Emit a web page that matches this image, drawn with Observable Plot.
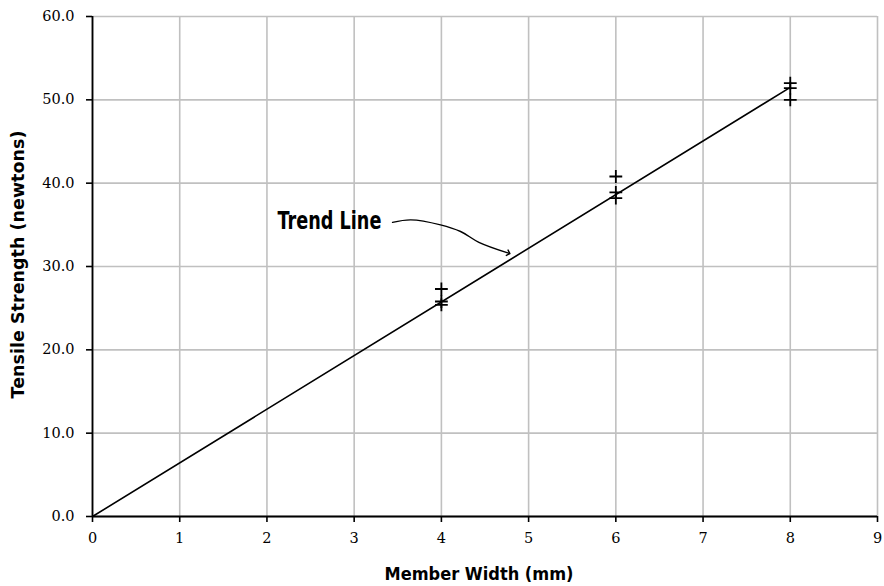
<!DOCTYPE html>
<html><head><meta charset="utf-8">
<script src="https://cdn.jsdelivr.net/npm/d3@7"></script>
<script src="https://cdn.jsdelivr.net/npm/@observablehq/plot@0.6"></script>
<style>
body{margin:0;background:#fff;}
#chart svg{display:block;}
</style>
</head><body><div id="chart"></div>
<script>
// Data
const widthMM = [4, 4, 4, 6, 6, 6, 8, 8, 8];
const strength = [27.3, 25.8, 25.4, 40.8, 38.9, 38.2, 52.0, 51.4, 50.0];
const trendX = [0, 8];
const trendY = [0, 51.5];
const xTicks = [0, 1, 2, 3, 4, 5, 6, 7, 8, 9];
const yTicks = [0, 10, 20, 30, 40, 50, 60];
const annotationText = "Trend Line";
const annotationAt = {x: 2.12, y: 35.4};
const arrowX = [3.44, 3.65, 3.99, 4.22, 4.43, 4.77];
const arrowY = [35.3, 35.6, 35.0, 34.2, 32.9, 31.6];
const xTitle = "Member Width (mm)";
const yTitle = "Tensile Strength (newtons)";

const points = widthMM.map((x, i) => ({x, y: strength[i]}));
const trend = trendX.map((x, i) => ({x, y: trendY[i]}));
const arrow = arrowX.map((x, i) => ({x, y: arrowY[i]}));

const boldFont = "'DejaVu Sans', sans-serif";
const numFont = "'DejaVu Serif', 'Liberation Serif', serif";

const chart = Plot.plot({
  width: 884,
  height: 586,
  marginLeft: 92,
  marginRight: 7,
  marginTop: 16,
  marginBottom: 70,
  style: {fontFamily: numFont, fontSize: "14px", color: "#000", background: "#fff"},
  x: {domain: [0, 9], ticks: xTicks, label: null},
  y: {domain: [0, 60], ticks: yTicks, label: null},
  marks: [
    Plot.gridX(xTicks, {stroke: "#c0c0c0", strokeOpacity: 1, strokeWidth: 1.6}),
    Plot.gridY(yTicks, {stroke: "#c0c0c0", strokeOpacity: 1, strokeWidth: 1.6}),
    Plot.axisX(xTicks, {tickSize: 6, tickPadding: 10, tickFormat: d => String(d), stroke: "#000", strokeWidth: 1.6, fontFamily: numFont, fontSize: 14.5}),
    Plot.axisY(yTicks, {tickSize: 6, tickPadding: 12, tickFormat: d => d.toFixed(1), stroke: "#000", strokeWidth: 1.6, fontFamily: numFont, fontSize: 14.5}),
    Plot.ruleX([0], {stroke: "#000", strokeWidth: 1.8}),
    Plot.ruleY([0], {stroke: "#000", strokeWidth: 1.8}),
    Plot.line(trend, {x: "x", y: "y", stroke: "#000", strokeWidth: 1.6}),
    Plot.dot(points, {x: "x", y: "y", symbol: "plus", r: 4.2, stroke: "#000", strokeWidth: 1.8}),
    Plot.line(arrow, {x: "x", y: "y", curve: "catmull-rom", stroke: "#000", strokeWidth: 1.4, markerEnd: "arrow"}),
    Plot.text([annotationAt], {x: "x", y: "y", text: () => annotationText, textAnchor: "start", fontFamily: boldFont, fontWeight: "bold", fontSize: 24}),
    Plot.text([xTitle], {frameAnchor: "bottom", lineAnchor: "middle", dx: -6, dy: 58, fontFamily: boldFont, fontWeight: "bold", fontSize: 17}),
    Plot.text([yTitle], {frameAnchor: "left", textAnchor: "start", lineAnchor: "middle", dx: -74, dy: 132, rotate: -90, fontFamily: boldFont, fontWeight: "bold", fontSize: 17})
  ]
});
// Condense the bold labels to match the narrow typeface of the original
const fit = {[annotationText]: 104, [xTitle]: 189, [yTitle]: 268};
d3.select(chart).selectAll("text").each(function() {
  const t = this.textContent;
  if (fit[t]) {
    this.setAttribute("textLength", fit[t]);
    this.setAttribute("lengthAdjust", "spacingAndGlyphs");
  }
});
document.getElementById("chart").appendChild(chart);
</script>
</body></html>
